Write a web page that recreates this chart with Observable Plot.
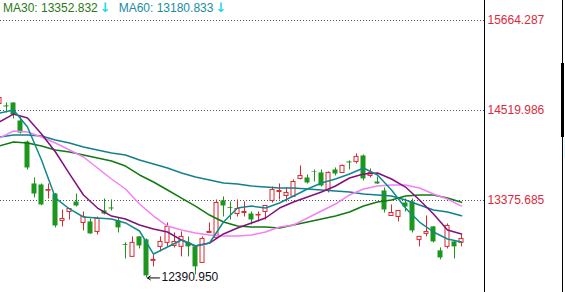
<!DOCTYPE html>
<html><head><meta charset="utf-8">
<script src="https://cdn.jsdelivr.net/npm/d3@7"></script>
<script src="https://cdn.jsdelivr.net/npm/@observablehq/plot@0.6"></script>
<style>
body{margin:0;background:#fff;}
#wrap{position:relative;width:565px;height:292px;overflow:hidden;font-family:"Liberation Sans",Arial,sans-serif;}
#hdr{position:absolute;left:3px;top:0;font-size:12px;line-height:16px;white-space:pre;}
.arr{color:#22d4f4;font-family:"DejaVu Sans",sans-serif;font-weight:bold;font-size:13px;margin-left:2px;}
.vl{position:absolute;background:#000;}
</style></head><body>
<div id="wrap"><div id="chart"></div><div id="hdr"></div>
<div class="vl" style="left:562px;top:0;width:1px;height:292px"></div>
<div class="vl" style="left:561px;top:63px;width:3px;height:74px"></div>
<div style="position:absolute;left:564px;top:138px;width:2px;height:20px;background:#e0f8ff"></div>
</div>
<script>
// candle OHLC, index 0..66
const open = [14603,14578,14615,14387,14119,13586,13573,13500,13458,13116,13230,13357,13090,13103,12976,13243,13281,13116,12815,12659,12913,12875,12608,12786,12837,12798,12786,12837,12786,12582,12963,12900,13370,13285,13204,13217,13204,13185,13230,13370,13484,13433,13421,13650,13662,13742,13726,13497,13764,13726,13866,13866,13942,13688,13611,13497,13179,13166,13344,13357,12875,12951,13040,12735,12786,12849,12837];
const close = [14679,14565,14463,14234,13789,13458,13319,13509,13052,13141,13268,13306,13166,12951,13141,13204,13268,13027,12805,12837,12798,12417,12621,12849,13040,12849,12913,12786,12532,12887,12976,13344,13306,13275,13268,13230,13128,13192,13306,13509,13497,13472,13611,13688,13599,13735,13561,13726,13713,13815,13853,13930,13650,13726,13586,13255,13217,13243,13293,12989,12913,12976,12849,12646,13052,12786,12887];
const high = [14692,14615,14620,14437,14132,13662,13586,13586,13465,13255,13270,13458,13230,13141,13166,13395,13383,13154,12837,12913,12918,12887,12684,12913,13090,12963,12976,12913,12798,12913,13090,13383,13421,13357,13383,13357,13230,13230,13310,13548,13586,13535,13637,13815,13700,13764,13764,13739,13790,13828,13879,13968,13955,13777,13675,13535,13319,13248,13395,13395,12918,13179,13045,12773,13078,12855,12938];
const low = [14590,14488,14412,14221,13764,13408,13310,13395,13027,13040,13128,13293,12989,12945,12938,13192,13243,12963,12633,12655,12760,12390.95,12532,12722,12786,12773,12659,12659,12430,12580,12960,12895,13166,13128,13166,13166,13065,13103,13128,13344,13383,13357,13415,13637,13586,13611,13548,13472,13688,13720,13764,13840,13624,13662,13580,13217,13175,13103,13230,12963,12786,12913,12837,12621,12760,12633,12786];

// moving averages read at every second candle
const maIdx = [0,2,4,6,8,10,12,14,16,18,20,22,24,26,28,30,32,34,36,38,40,42,44,46,48,50,52,54,56,58,60,62,64,66];
const ma5 = [14488,14526,14310,13891,13407,13268,13166,13153,13140,13090,12988,12695,12784,12873,12797,12835,13102,13280,13305,13280,13344,13433,13522,13598,13649,13713,13789,13700,13509,13280,13102,12975,12886,12848];
const ma10 = [14374,14475,14425,14221,13992,13713,13446,13280,13178,13140,13064,13013,12975,12873,12797,12835,12950,13026,13090,13153,13280,13357,13420,13484,13560,13662,13713,13725,13649,13547,13382,13204,13001,12950];
const ma20 = [14170,14259,14247,14183,14107,14018,13929,13789,13649,13522,13331,13178,13051,13001,12962,12937,12924,12924,12937,12975,13039,13064,13153,13242,13331,13446,13522,13560,13573,13573,13535,13458,13395,13305];
const ma30 = [14069,14119,14107,14069,14018,13992,13954,13916,13878,13814,13700,13611,13509,13407,13305,13191,13102,13051,13039,13039,13026,13064,13102,13140,13178,13229,13305,13357,13382,13433,13446,13446,13407,13352.832];
const ma60 = [14183,14208,14208,14196,14145,14107,14056,14018,13980,13954,13891,13840,13789,13725,13674,13636,13598,13585,13560,13547,13535,13535,13522,13509,13497,13484,13458,13446,13433,13382,13318,13255,13229,13180.833];

const yTicks = [13375.685, 14519.986, 15664.287];

const RED = "#dc2830", GREEN = "#1c961c", LABEL = "#dc2a3c";
const C5 = "#0e8a8e", C10 = "#84107e", C20 = "#f480f4", C30 = "#107a10", C60 = "#12808c";

const candles = d3.range(open.length).map(i => ({i, o: open[i], h: high[i], l: low[i], c: close[i], up: close[i] >= open[i]}));
const rows = arr => maIdx.map((i, k) => ({i, v: arr[k]}));
const minI = d3.minIndex(low);
const f3 = d3.format(".3f");
const lowPt = [{i: minI, v: low[minI]}];

const chart = Plot.plot({
  width: 565, height: 292, marginLeft: 0, marginRight: 81, marginTop: 0, marginBottom: 0,
  style: {fontFamily: "'Liberation Sans', Arial, sans-serif", fontSize: "12px", background: "#fff"},
  x: {type: "linear", domain: [0, 66], range: [-1, 461], axis: null},
  y: {type: "linear", domain: [13375.685, 15664.287], range: [200, 20], axis: null},
  marks: [
    Plot.ruleY(yTicks, {stroke: "#555", strokeDasharray: "1,2"}),
    Plot.ruleX(candles, {x: "i", y1: "l", y2: "h", stroke: d => d.up ? RED : GREEN}),
    Plot.rect(candles.filter(d => !d.up), {x1: d => d.i - 2.5/7, x2: d => d.i + 2.5/7, y1: "o", y2: "c", fill: GREEN}),
    Plot.rect(candles.filter(d => d.up), {x1: d => d.i - 2/7, x2: d => d.i + 2/7, y1: "o", y2: "c", fill: "white", stroke: RED}),
    Plot.line(rows(ma60), {x: "i", y: "v", stroke: C60}),
    Plot.line(rows(ma30), {x: "i", y: "v", stroke: C30}),
    Plot.line(rows(ma20), {x: "i", y: "v", stroke: C20}),
    Plot.line(rows(ma10), {x: "i", y: "v", stroke: C10}),
    Plot.line(rows(ma5), {x: "i", y: "v", stroke: C5}),
    Plot.arrow(lowPt, {x1: d => d.i + 13/7, x2: d => d.i + 0.15, y1: "v", y2: "v", stroke: "#000", headLength: 5, headAngle: 70, strokeWidth: 1}),
    Plot.text(lowPt, {x: "i", y: "v", text: d => f3(d.v), textAnchor: "start", dx: 15, dy: -1, fill: "#101018", fontSize: 12}),
    Plot.axisY(yTicks, {anchor: "right", tickSize: 0, tickPadding: 3, tickFormat: f3, fill: LABEL, fontSize: 12}),
    Plot.frame({anchor: "right", stroke: "#000"})
  ]
});
document.getElementById("chart").appendChild(chart);

const hdr = document.getElementById("hdr");
hdr.innerHTML =
  `<span style="color:#2a7a14">MA30: ${f3(ma30[ma30.length-1])}</span><span class="arr">\u2193</span>` +
  `<span style="color:#1a8ca0;margin-left:8px">MA60: ${f3(ma60[ma60.length-1])}</span><span class="arr">\u2193</span>`;
</script>
</body></html>
